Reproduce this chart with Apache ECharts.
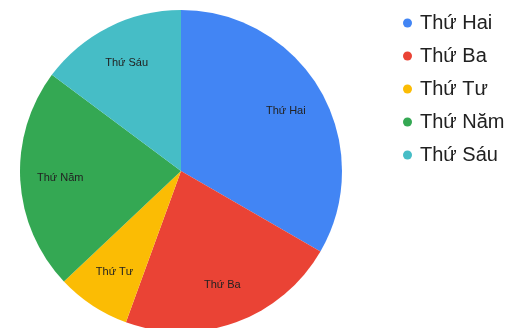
<!DOCTYPE html>
<html>
<head>
<meta charset="utf-8">
<script src="https://cdn.jsdelivr.net/npm/echarts@6/dist/echarts.min.js"></script>
<style>
  html, body { margin: 0; padding: 0; background: #fff; }
  #chart { width: 517px; height: 328px; }
</style>
</head>
<body>
<div id="chart"></div>
<script>
// Days of the week and their values
const days = ['Thứ Hai', 'Thứ Ba', 'Thứ Tư', 'Thứ Năm', 'Thứ Sáu'];
const values = [45, 30, 10, 30, 20];
const colors = ['#4285F4', '#EA4335', '#FBBC04', '#34A853', '#46BDC6'];

const pieData = days.map((d, i) => ({ name: d, value: values[i], itemStyle: { color: colors[i] } }));
const labelData = days.map((d, i) => ({ name: d, value: values[i] }));
const font = 'Liberation Sans, Arial, sans-serif';

const chart = echarts.init(document.getElementById('chart'), null, { renderer: 'canvas' });
chart.setOption({
  animation: false,
  backgroundColor: '#fff',
  legend: {
    orient: 'vertical',
    left: 398,
    top: 8,
    icon: 'circle',
    itemWidth: 9,
    itemHeight: 9,
    itemGap: 13,
    data: days.map((d, i) => ({ name: d, itemStyle: { color: colors[i] } })),
    textStyle: { fontFamily: font, fontSize: 20, color: '#212121', padding: [0, 0, 0, 3] }
  },
  series: [
    {
      type: 'pie',
      center: [181, 171],
      radius: [0, 161],
      startAngle: 90,
      clockwise: true,
      label: { show: false },
      labelLine: { show: false },
      itemStyle: { borderWidth: 0 },
      data: pieData
    },
    {
      // clear ring that places the slice names at about 3/4 of the radius
      type: 'pie',
      center: [181, 171],
      radius: [78, 158],
      startAngle: 90,
      clockwise: true,
      silent: true,
      itemStyle: { color: 'rgba(0,0,0,0)', borderWidth: 0 },
      label: {
        show: true,
        position: 'inside',
        formatter: '{b}',
        fontFamily: font,
        fontSize: 11,
        color: '#222'
      },
      labelLine: { show: false },
      data: labelData
    }
  ]
});
</script>
</body>
</html>
